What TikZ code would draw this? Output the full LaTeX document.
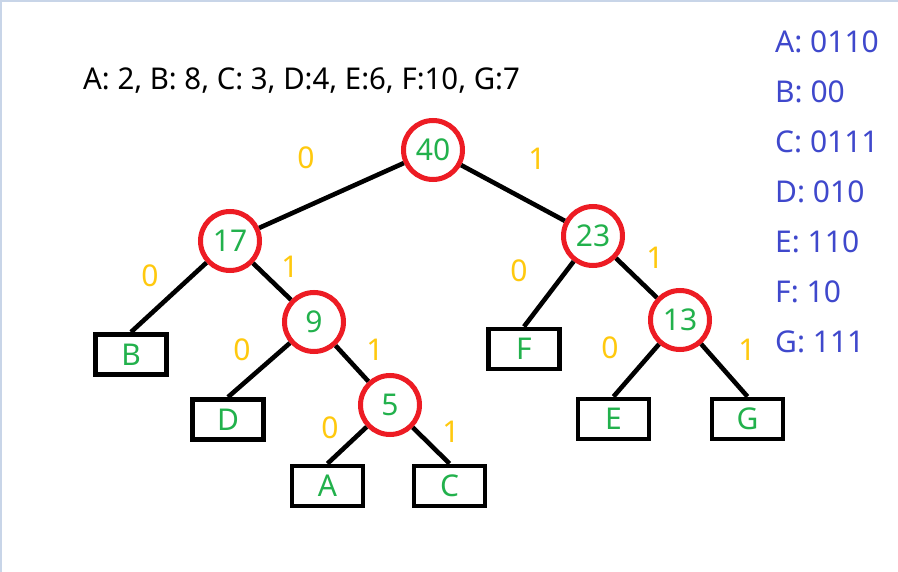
\documentclass[tikz,border=0pt]{standalone}
\usepackage{fontspec}
\setmainfont{Noto Sans}
\definecolor{pred}{HTML}{ED1C24}
\definecolor{pgreen}{HTML}{22B14C}
\definecolor{pgold}{HTML}{FFC90E}
\definecolor{pindigo}{HTML}{3F48CC}
\definecolor{pframe}{HTML}{C8D5E8}
\begin{document}
\begin{tikzpicture}[x=1pt,y=-1pt,
  every node/.style={font=\fontsize{30}{36}\selectfont},
  sumnode/.style={circle,draw=pred,line width=5pt,minimum size=59pt,inner sep=0pt,text=pgreen,fill=white},
  leafnode/.style={rectangle,draw=black,line width=4.8pt,minimum width=71pt,minimum height=40pt,inner sep=0pt,text=pgreen},
  bit/.style={text=pgold,inner sep=0pt},
  edge/.style={draw=black,line width=4.6pt},
  code/.style={text=pindigo,anchor=base west,inner sep=0pt}
]
\useasboundingbox (0,0) rectangle (898,572);
\fill[white] (0,0) rectangle (898,572);
\draw[pframe,line width=2pt] (1,572) -- (1,1) -- (898,1);

% title
\node[anchor=base west,inner sep=0pt,xscale=0.98] (title) at (83,90) {A: 2, B: 8, C: 3, D:4, E:6, F:10, G:7};

% internal nodes
\node[sumnode] (n40) at (433,150) {40};
\node[sumnode] (n17) at (230,241) {17};
\node[sumnode] (n23) at (593,236) {23};
\node[sumnode] (n9)  at (314,322) {9};
\node[sumnode] (n13) at (680,320) {13};
\node[sumnode] (n5)  at (390,405) {5};

% leaves
\node[leafnode] (B) at (131,354.5) {B};
\node[leafnode] (D) at (228,419.5) {D};
\node[leafnode] (F) at (524,349) {F};
\node[leafnode] (A) at (327.5,486) {A};
\node[leafnode] (C) at (449.5,486) {C};
\node[leafnode] (E) at (613.5,419) {E};
\node[leafnode] (G) at (747.5,419) {G};

% edges
\begin{scope}[on background layer/.style={}]
\draw[edge] (n40) -- (n17);
\draw[edge] (n40) -- (n23);
\draw[edge] (n17) -- (B.north);
\draw[edge] (n17) -- (n9);
\draw[edge] (n9) -- (D.north);
\draw[edge] (n9) -- (n5);
\draw[edge] (n5) -- (A.north);
\draw[edge] (n5) -- (C.north);
\draw[edge] (n23) -- (F.north);
\draw[edge] (n23) -- (n13);
\draw[edge] (n13) -- (E.north);
\draw[edge] (n13) -- (G.north);
\end{scope}

% bit labels
\node[bit] (b1) at (306,158) {0};
\node[bit] (b2) at (537,159) {1};
\node[bit] (b3) at (150,276) {0};
\node[bit] (b4) at (290,267) {1};
\node[bit] (b5) at (519,271) {0};
\node[bit] (b6) at (655,258) {1};
\node[bit] (b7) at (242,350) {0};
\node[bit] (b8) at (375,350) {1};
\node[bit] (b9) at (610,348) {0};
\node[bit] (b10) at (747,350) {1};
\node[bit] (b11) at (330,428) {0};
\node[bit] (b12) at (451,432) {1};

% code table
\node[code] (cA) at (775,53)  {A: 0110};
\node[code] (cB) at (775,103) {B: 00};
\node[code] (cC) at (775,153) {C: 0111};
\node[code] (cD) at (775,203) {D: 010};
\node[code] (cE) at (775,253) {E: 110};
\node[code] (cF) at (775,303) {F: 10};
\node[code] (cG) at (775,353) {G: 111};
\end{tikzpicture}
\end{document}
